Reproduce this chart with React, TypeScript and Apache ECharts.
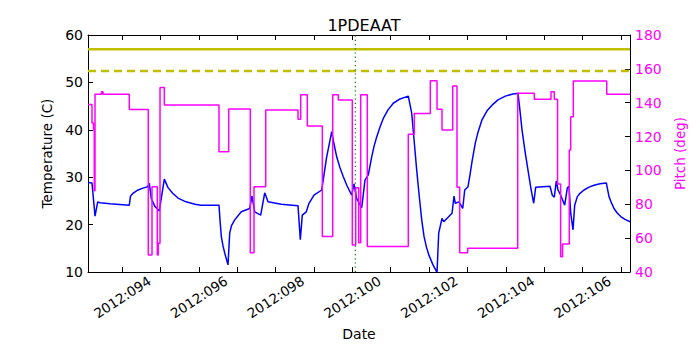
import React, { useEffect, useRef } from "react";
import * as echarts from "echarts";

const X_MIN = 93.106;
const X_MAX = 107.239;

const tempDays = [
  93.119, 93.21, 93.289, 93.359, 93.419, 93.68, 94.183, 94.214, 94.279, 94.41, 94.54, 94.663, 94.704, 94.757,
  94.853, 94.965, 95.096, 95.192, 95.315, 95.453, 95.661, 95.896, 96.053, 96.522, 96.548, 96.582, 96.626,
  96.678, 96.757, 96.801, 96.848, 96.931, 97.103, 97.322, 97.382, 97.453, 97.609, 97.714, 97.8, 98.147,
  98.582, 98.642, 98.694, 98.798, 98.869, 98.999, 99.2, 99.33, 99.461, 99.521, 99.591, 99.677, 99.763,
  99.86, 99.982, 100.042, 100.113, 100.243, 100.329, 100.415, 100.504, 100.564, 100.634, 100.72, 100.806,
  100.929, 101.067, 101.242, 101.458, 101.547, 101.607, 101.677, 101.737, 101.808, 101.868, 101.933,
  101.998, 102.102, 102.207, 102.251, 102.337, 102.381, 102.598, 102.65, 102.684, 102.78, 102.877, 102.929,
  103.015, 103.067, 103.119, 103.205, 103.276, 103.38, 103.51, 103.641, 103.797, 103.988, 104.162, 104.319,
  104.371, 104.423, 104.501, 104.579, 104.658, 104.728, 104.78, 105.153, 105.213, 105.265, 105.317, 105.362,
  105.432, 105.536, 105.604, 105.649, 105.693, 105.753, 105.797, 105.865, 105.935, 106.04, 106.17, 106.301,
  106.457, 106.621, 106.692, 106.744, 106.822, 106.9, 106.997, 107.109, 107.239,
];
const tempValues = [
  28.9, 28.8, 21.8, 24.8, 24.6, 24.4, 24.1, 26.0, 26.6, 27.3, 27.7, 28.0, 28.7, 25.5,
  23.8, 22.9, 29.6, 27.8, 26.6, 25.6, 24.8, 24.3, 24.1, 24.1, 21.0, 17.5, 15.5,
  13.8, 11.5, 18.2, 19.8, 21.0, 22.7, 23.4, 26.0, 22.7, 22.0, 26.7, 24.8, 24.3,
  24.0, 16.8, 22.0, 22.7, 24.5, 26.2, 27.3, 34.3, 39.6, 37.0, 34.3, 32.0, 30.1,
  28.2, 26.2, 28.6, 25.5, 23.6, 29.4, 30.5, 34.3, 36.5, 38.5, 40.6, 42.4,
  44.2, 45.6, 46.5, 47.1, 43.5, 38.0, 31.5, 26.5, 21.0, 17.5, 15.2,
  13.5, 11.5, 9.9, 18.2, 21.3, 20.6, 22.4, 26.0, 24.5, 24.8, 23.4, 27.3,
  28.0, 30.5, 33.3, 37.2, 39.5, 42.1, 44.0, 45.2, 46.3, 47.1, 47.5, 47.7,
  44.0, 40.0, 35.5, 31.5, 27.5, 24.5, 27.9, 28.1, 26.2, 25.8, 29.2, 27.3,
  26.2, 24.1, 27.7, 28.1, 22.4, 18.9, 24.1, 25.9, 26.6, 27.3, 27.9, 28.3,
  28.6, 28.8, 25.9, 24.8, 23.4, 22.5, 21.7, 21.1, 20.6,
];

const pitchDays = [
  93.106, 93.21, 93.249, 93.27, 93.289, 93.458, 93.497, 94.183, 94.678, 94.775, 94.913, 94.939, 94.984,
  95.096, 96.522, 96.775, 97.338, 97.435, 97.74, 98.582, 98.652, 98.825, 99.216, 99.487, 99.633, 99.998,
  100.087, 100.165, 100.217, 100.389, 101.458, 101.615, 102.032, 102.207, 102.337, 102.616, 102.728,
  102.798, 103.007, 104.311, 104.744, 105.179, 105.265, 105.35, 105.43, 105.48, 105.656, 105.693, 105.761,
  106.632, 107.239,
];
const pitchValues = [
  139, 128, 124, 88, 145, 146.5, 145, 136, 50, 90.4, 50, 57, 149,
  138.6, 111, 136.3, 51.4, 90.4, 135.7, 130.2, 144.7, 126.2, 60.9, 144.7, 141.6, 56,
  89.8, 57.3, 144.7, 55, 121.3, 133.7, 153, 136.1, 123.9, 149.9, 90,
  51.4, 54, 145.6, 142, 146.5, 142, 92, 49, 56.5, 112, 131.7, 152.8,
  145, 145,
];

const limitSolid = 57;
const limitDashed = 52.4;
const markerDay = 100.077;

const xTickDays = [94, 95, 96, 97, 98, 99, 100, 101, 102, 103, 104, 105, 106, 107];
const xLabelDays = [94, 96, 98, 100, 102, 104, 106];

const FONT = "DejaVu Sans";
const MAGENTA = "#ff00ff";

export default function App() {
  const ref = useRef<HTMLDivElement>(null);
  useEffect(() => {
    if (!ref.current) return;
    const chart = echarts.init(ref.current, null, { renderer: "svg" });
    const tickStyle = { inside: true, length: 5, lineStyle: { color: "#000", width: 1 } };
    const option: any = {
      animation: false,
      backgroundColor: "#fff",
      textStyle: { fontFamily: FONT },
      title: {
        text: "1PDEAAT",
        left: 359,
        top: 12,
        textAlign: "center",
        textStyle: { fontFamily: FONT, fontSize: 16, fontWeight: "normal", color: "#000" },
      },
      grid: { left: 88, right: 70, top: 35, bottom: 78 },
      xAxis: [
        {
          type: "value",
          min: X_MIN,
          max: X_MAX,
          position: "bottom",
          name: "Date",
          nameLocation: "middle",
          nameGap: 52,
          nameTextStyle: { fontFamily: FONT, fontSize: 14, color: "#000" },
          axisLine: { show: true, onZero: false, lineStyle: { color: "#000", width: 1 } },
          axisTick: { ...tickStyle, customValues: xTickDays },
          splitLine: { show: false },
          axisLabel: {
            customValues: xLabelDays,
            rotate: 33,
            align: "center",
            verticalAlign: "middle",
            margin: 25,
            fontFamily: FONT,
            fontSize: 13.5,
            color: "#000",
            formatter: (v: number) => "2012:" + String(Math.round(v)).padStart(3, "0"),
          },
        },
        {
          type: "value",
          min: X_MIN,
          max: X_MAX,
          position: "top",
          axisLine: { show: true, onZero: false, lineStyle: { color: "#000", width: 1 } },
          axisTick: { ...tickStyle, customValues: xTickDays },
          axisLabel: { show: false },
          splitLine: { show: false },
        },
      ],
      yAxis: [
        {
          type: "value",
          min: 10,
          max: 60,
          interval: 10,
          position: "left",
          name: "Temperature (C)",
          nameLocation: "middle",
          nameGap: 27,
          nameTextStyle: { fontFamily: FONT, fontSize: 13.5, color: "#000" },
          axisLine: { show: true, onZero: false, lineStyle: { color: "#000", width: 1 } },
          axisTick: tickStyle,
          splitLine: { show: false },
          axisLabel: { fontFamily: FONT, fontSize: 14, color: "#000", margin: 5 },
        },
        {
          type: "value",
          min: 40,
          max: 180,
          interval: 20,
          position: "right",
          name: "Pitch (deg)",
          nameLocation: "middle",
          nameGap: 31,
          nameRotate: 90,
          nameTextStyle: { fontFamily: FONT, fontSize: 13.5, color: MAGENTA },
          axisLine: { show: true, onZero: false, lineStyle: { color: "#000", width: 1 } },
          axisTick: tickStyle,
          splitLine: { show: false },
          axisLabel: { fontFamily: FONT, fontSize: 14, color: MAGENTA, margin: 5 },
        },
      ],
      series: [
        {
          type: "line",
          name: "limit",
          xAxisIndex: 0,
          yAxisIndex: 0,
          data: [[X_MIN, limitSolid], [X_MAX, limitSolid]],
          symbol: "none",
          lineStyle: { color: "#bfbf00", width: 2.5 },
          z: 2,
        },
        {
          type: "line",
          name: "limit2",
          xAxisIndex: 0,
          yAxisIndex: 0,
          data: [[X_MIN, limitDashed], [X_MAX, limitDashed]],
          symbol: "none",
          lineStyle: { color: "#bfbf00", width: 2.5, type: [8, 5] },
          z: 2,
        },
        {
          type: "line",
          name: "marker",
          xAxisIndex: 0,
          yAxisIndex: 0,
          data: [[markerDay, 10], [markerDay, 60]],
          symbol: "none",
          lineStyle: { color: "#008000", width: 1.2, type: [1.2, 3] },
          z: 2,
        },
        {
          type: "line",
          name: "Temperature",
          xAxisIndex: 0,
          yAxisIndex: 0,
          data: tempDays.map((d, i) => [d, tempValues[i]]),
          symbol: "none",
          lineStyle: { color: "#0000ff", width: 1.5 },
          z: 3,
        },
        {
          type: "line",
          name: "Pitch",
          xAxisIndex: 0,
          yAxisIndex: 1,
          step: "end",
          data: pitchDays.map((d, i) => [d, pitchValues[i]]),
          symbol: "none",
          lineStyle: { color: MAGENTA, width: 1.5 },
          z: 4,
        },
      ],
    };
    chart.setOption(option);
    return () => chart.dispose();
  }, []);
  return <div ref={ref} style={{ width: 700, height: 350, margin: -8 }} />;
}
